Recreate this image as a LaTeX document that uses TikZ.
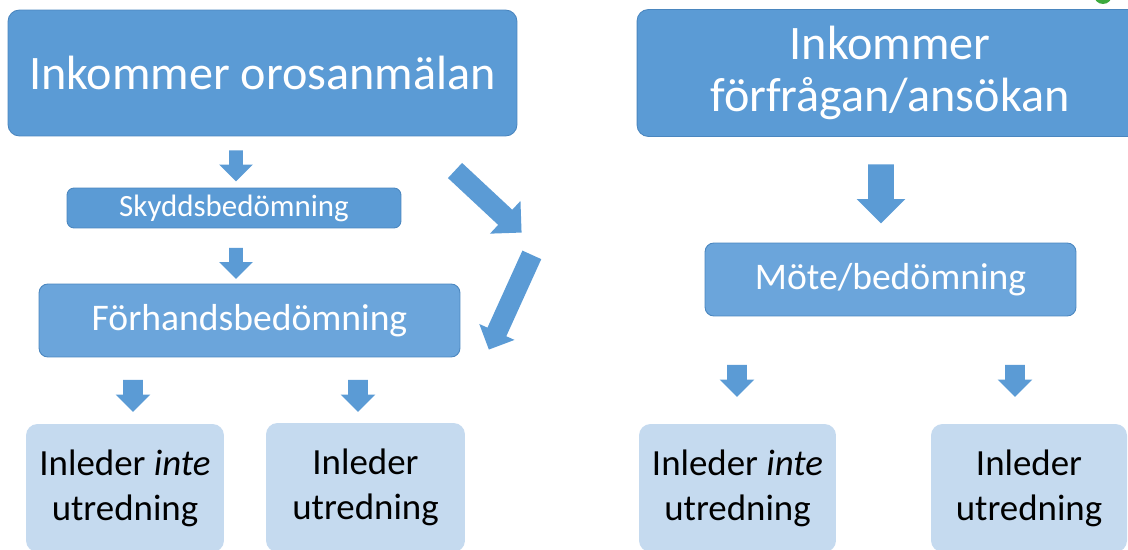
\documentclass[tikz,border=0pt]{standalone}
\usepackage{fontspec}
\setmainfont{Carlito}
\usetikzlibrary{shapes.arrows}
\definecolor{rutblue}{HTML}{5B9BD5}
\definecolor{rutmid}{HTML}{6BA5DB}
\definecolor{rutline}{HTML}{4A86BF}
\definecolor{rutlight}{HTML}{C5DAEF}
\definecolor{pilblue}{HTML}{5B9BD5}
\definecolor{pluppgreen}{HTML}{3DAA3D}
\begin{document}
\begin{tikzpicture}[x=0.02cm,y=-0.02cm,
		ruta/.style={draw=rutline,line width=0.5pt,fill=rutblue,text=white,align=center,inner sep=0pt,rounded corners=6.5pt},
		ljusruta/.style={fill=rutlight,text=black,align=center,inner sep=0pt,rounded corners=6.5pt,font=\fontsize{21}{25.5}\selectfont},
		pil/.style={single arrow,single arrow tip angle=90,fill=pilblue,draw=none,inner xsep=0pt},
		litenpil/.style={pil,minimum height=0.64cm,inner ysep=0.19cm,single arrow head extend=0.15cm,rotate=-90}]
		\clip (0,0) rectangle (1128,550);
		\useasboundingbox (0,0) rectangle (1128,550);
		\fill[pluppgreen] (1103,-5) circle[radius=9];
		\node[ruta,minimum width=10.18cm,minimum height=2.52cm,font=\fontsize{27.4}{30}\selectfont] (orosan) at (262.5,73) {Inkommer orosanmälan};
		\node[ruta,minimum width=10.12cm,minimum height=2.54cm,font=\fontsize{27.4}{30}\selectfont] (forfragan) at (890,73) {Inkommer\\förfrågan/ansökan};
		\node[ruta,minimum width=6.68cm,minimum height=0.8cm,rounded corners=4pt,font=\fontsize{17.6}{20}\selectfont] (skydd) at (234,208) {Skyddsbedömning};
		\node[ruta,fill=rutmid,minimum width=8.42cm,minimum height=1.46cm,rounded corners=5pt,font=\fontsize{21.4}{24}\selectfont] (forhand) at (249.5,320.5) {Förhandsbedömning};
		\node[ruta,fill=rutmid,minimum width=7.42cm,minimum height=1.46cm,rounded corners=5pt,font=\fontsize{21.4}{24}\selectfont] (mote) at (890.5,279.5) {Möte/bedömning};
		\node[ljusruta,minimum width=3.96cm,minimum height=2.56cm] (inte1) at (125,488) {Inleder \textit{inte}\\utredning};
		\node[ljusruta,minimum width=3.98cm,minimum height=2.58cm] (utr1) at (365.5,487.5) {Inleder\\utredning};
		\node[ljusruta,minimum width=3.94cm,minimum height=2.56cm] (inte2) at (737.5,488) {Inleder \textit{inte}\\utredning};
		\node[ljusruta,minimum width=3.92cm,minimum height=2.56cm] (utr2) at (1029,488) {Inleder\\utredning};
		\node[pil,minimum height=0.62cm,inner ysep=0.13cm,single arrow head extend=0.2cm,rotate=-90] (pil1) at (236,162.5) {};
		\node[pil,minimum height=0.62cm,inner ysep=0.13cm,single arrow head extend=0.2cm,rotate=-90] (pil2) at (236,260) {};
		\node[litenpil] (pil3) at (133,391) {};
		\node[litenpil] (pil4) at (358,391) {};
		\node[pil,minimum height=1.18cm,inner ysep=0.25cm,single arrow head extend=0.23cm,rotate=-90] (pil5) at (881,187.5) {};
		\node[litenpil] (pil6) at (737,376) {};
		\node[litenpil] (pil7) at (1015,376) {};
		\node[pil,minimum height=1.82cm,inner ysep=0.2cm,single arrow head extend=0.24cm,rotate=-43] (pil8) at (484.5,198) {};
		\node[pil,minimum height=2.08cm,inner ysep=0.2cm,single arrow head extend=0.18cm,rotate=-114.4] (pil9) at (512.5,297.5) {};
	\end{tikzpicture}
\end{document}
